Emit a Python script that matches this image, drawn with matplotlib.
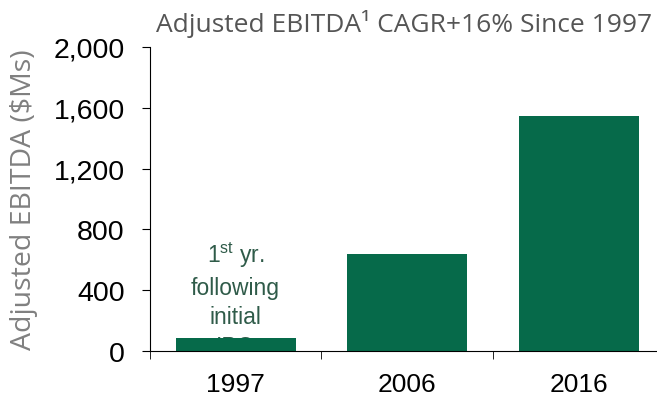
import matplotlib
matplotlib.use("Agg")
import matplotlib.pyplot as plt
from matplotlib.ticker import FuncFormatter

# data
years = ["1997", "2006", "2016"]
ebitda = [85, 638, 1546]
y_ticks = [0, 400, 800, 1200, 1600, 2000]

bar_color = "#066a4a"
note_color = "#2f5b49"

plt.rcParams["mathtext.fontset"] = "custom"
plt.rcParams["mathtext.rm"] = "Liberation Sans"
plt.rcParams["mathtext.it"] = "Liberation Sans"

fig = plt.figure(figsize=(6.57, 4.02), dpi=100)
ax = fig.add_axes([0.228, 0.1244, 0.772, 0.7562])

x = range(len(years))
# note sits behind the first bar, so the last line gets covered
ax.text(0, 730, "1$^{\\rm st}$ yr.\nfollowing\ninitial\nIPO", ha="center", va="top",
        fontsize=16.5, family="Liberation Sans", color=note_color, linespacing=1.36,
        zorder=1, clip_on=True)
ax.bar(x, ebitda, width=0.7, color=bar_color, zorder=2)

ax.set_xlim(-0.5, 2.456)
ax.set_ylim(0, 2000)
ax.set_yticks(y_ticks)
ax.yaxis.set_major_formatter(FuncFormatter(lambda v, p: f"{int(v):,}"))
ax.set_xticks(list(x))
ax.set_xticklabels(years)
ax.set_xticks([-0.5, 0.5, 1.5], minor=True)
ax.tick_params(axis="x", which="major", length=0, pad=15, labelsize=19)
ax.tick_params(axis="x", which="minor", length=6, direction="out")
ax.tick_params(axis="y", length=6, direction="out", labelsize=20.5, pad=12)
for lab in ax.get_xticklabels() + ax.get_yticklabels():
    lab.set_family("Liberation Sans")

ax.spines["top"].set_visible(False)
ax.spines["right"].set_visible(False)

ax.set_ylabel("Adjusted EBITDA ($Ms)", family="Open Sans", fontsize=20.5, color="#808080", labelpad=11)
fig.text(0.993, 0.94, "Adjusted EBITDA\u00b9 CAGR+16% Since 1997", ha="right", va="center",
         family="Open Sans", fontsize=19, color="#555555")

fig.savefig("out.png", dpi=100)
